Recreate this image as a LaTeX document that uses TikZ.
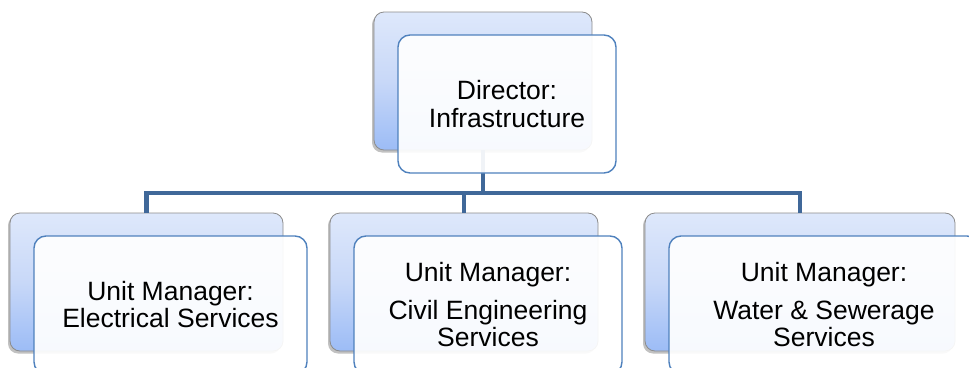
\documentclass[tikz,border=0pt]{standalone}
\usepackage{fontspec}
\setmainfont{Liberation Sans}
\usetikzlibrary{shadows}
\definecolor{linkblue}{RGB}{64,104,153}
\definecolor{frameblue}{RGB}{79,129,189}
\definecolor{backtop}{RGB}{222,232,251}
\definecolor{backmid}{RGB}{200,216,248}
\definecolor{backbot}{RGB}{156,188,246}
\tikzset{
  backcard/.style={rectangle, rounded corners=10pt, draw=black!45, line width=0.8pt,
    top color=backtop, bottom color=backbot, middle color=backmid,
    minimum height=138pt, inner sep=0pt, outer sep=0pt,
    drop shadow={shadow xshift=-2pt, shadow yshift=-2.5pt, opacity=0.35, fill=black!70}},
  frontcard/.style={rectangle, rounded corners=12pt, draw=frameblue, line width=1.4pt,
    fill=white, fill opacity=0.92, text opacity=1,
    minimum height=138pt, inner sep=0pt, outer sep=0pt, align=center,
    font=\fontsize{26.5}{27}\selectfont},
  conn/.style={draw=linkblue, line width=4.5pt, line join=miter}
}
\begin{document}
\begin{tikzpicture}[x=1pt,y=-1pt]
\useasboundingbox (0,0) rectangle (969,367);
\clip (0,0) rectangle (969,367);
% rear cards
\node[backcard, minimum width=218pt] (dirB) at (483,81) {};
\node[backcard, minimum width=273pt] (elecB) at (146.5,282) {};
\node[backcard, minimum width=268pt] (civB) at (464,282) {};
\node[backcard, minimum width=310pt] (watB) at (800,282) {};
% hierarchy connectors
\coordinate (bar) at (0,193);
\draw[conn] (dirB.south) -- (dirB.south |- bar);
\draw[conn] (elecB.north) -- (elecB.north |- bar) -- (watB.north |- bar) -- (watB.north);
\draw[conn] (civB.north) -- (civB.north |- bar);
% front cards with the titles
\node[frontcard, minimum width=218pt] (dirF) at (507,104) {Director:\\[1pt]Infrastructure};
\node[frontcard, minimum width=273pt] (elecF) at (170.5,305) {Unit Manager:\\Electrical Services};
\node[frontcard, minimum width=268pt] (civF) at (488,305) {Unit Manager:\\[11pt]Civil Engineering\\Services};
\node[frontcard, minimum width=310pt] (watF) at (824,305) {Unit Manager:\\[11pt]Water \& Sewerage\\Services};
\end{tikzpicture}
\end{document}
